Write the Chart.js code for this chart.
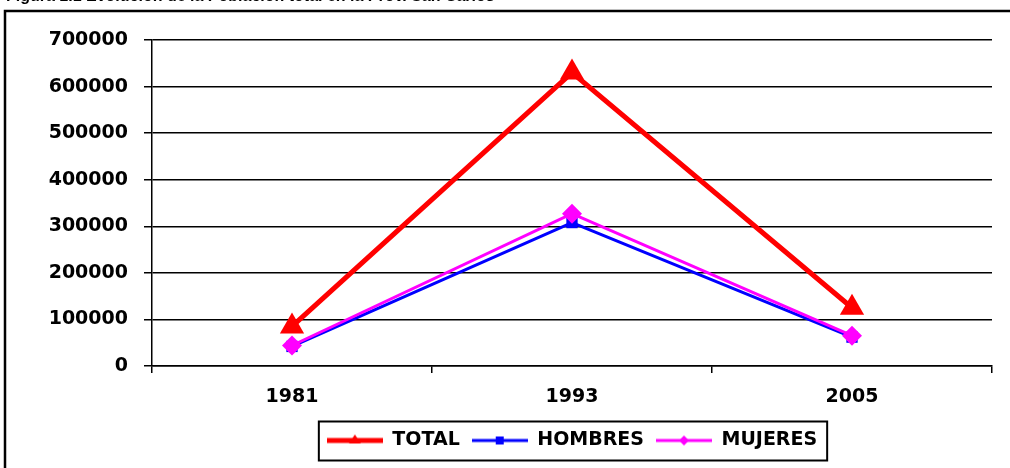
<!DOCTYPE html>
<html>
<head>
<meta charset="utf-8">
<script src="https://cdn.jsdelivr.net/npm/chart.js@4.4.1/dist/chart.umd.min.js"></script>
<style>
    html, body { margin: 0; padding: 0; background: #fff; }
    #wrap { width: 1010px; height: 468px; }
</style>
</head>
<body>
<div id="wrap"><canvas id="myChart" width="1010" height="468"></canvas></div>
<script>
// data
const years = ['1981', '1993', '2005'];
const total = [85000, 630000, 125000];
const hombres = [42000, 308000, 62000];
const mujeres = [44000, 327000, 65000];
const yMin = 0;
const yMax = 700000;
const yStep = 100000;

const FONT = '"DejaVu Sans", Arial, sans-serif';

// small line+marker pictures for the legend
function legendIcon(color, lw, shape) {
    let c = document.createElement('canvas');
    c.width = 56;
    c.height = 14;
    let ctx = c.getContext('2d');
    ctx.strokeStyle = color;
    ctx.fillStyle = color;
    ctx.lineWidth = lw;
    ctx.beginPath();
    ctx.moveTo(0, 7);
    ctx.lineTo(56, 7);
    ctx.stroke();
    ctx.beginPath();
    if (shape === 'triangle') {
        ctx.moveTo(28, 1);
        ctx.lineTo(34, 10);
        ctx.lineTo(22, 10);
    } else if (shape === 'rect') {
        ctx.rect(24, 3, 8, 8);
    } else {
        ctx.moveTo(28, 2);
        ctx.lineTo(33, 7);
        ctx.lineTo(28, 12);
        ctx.lineTo(23, 7);
    }
    ctx.closePath();
    ctx.fill();
    return c;
}

const icons = [
    legendIcon('#ff0000', 5, 'triangle'),
    legendIcon('#0000ff', 3, 'rect'),
    legendIcon('#ff00ff', 3, 'diamond')
];

// white page, frame and the cut-off title
const framePlugin = {
    id: 'frame',
    beforeDraw(chart) {
        const ctx = chart.ctx;
        ctx.save();
        ctx.fillStyle = '#fff';
        ctx.fillRect(0, 0, chart.width, chart.height);
        ctx.fillStyle = '#000';
        ctx.font = 'bold 16px Arial, "Liberation Sans", sans-serif';
        ctx.textBaseline = 'alphabetic';
        ctx.fillText('Figura 1.1 Evolución de la Población total en la Prov. San Carlos', 6, 1);
        ctx.strokeStyle = '#000';
        ctx.lineWidth = 2.5;
        ctx.beginPath();
        ctx.moveTo(5, 468);
        ctx.lineTo(5, 11);
        ctx.lineTo(1010, 11);
        ctx.stroke();
        ctx.restore();
    },
    // legend sits under the plot area, not the whole page
    afterLayout(chart) {
        const lg = chart.legend;
        const dx = (chart.chartArea.left + chart.chartArea.right) / 2 - (lg.left + lg.right) / 2;
        lg.left += dx;
        lg.right += dx;
    }
};

// box round the legend
const legendBoxPlugin = {
    id: 'legendBox',
    afterDraw(chart) {
        const boxes = chart.legend.legendHitBoxes;
        if (!boxes || !boxes.length) return;
        let l = Math.min(...boxes.map(b => b.left));
        let r = Math.max(...boxes.map(b => b.left + b.width));
        let cy = boxes[0].top + boxes[0].height / 2;
        const ctx = chart.ctx;
        ctx.save();
        ctx.strokeStyle = '#000';
        ctx.lineWidth = 2;
        ctx.strokeRect(l - 8, cy - 19, r - l + 18, 39);
        ctx.restore();
    }
};

let myChart = new Chart(document.getElementById('myChart'), {
    type: 'line',
    data: {
        labels: years,
        datasets: [{
            label: 'TOTAL',
            data: total,
            borderColor: '#ff0000',
            backgroundColor: '#ff0000',
            borderWidth: 5,
            pointStyle: 'triangle',
            pointRadius: 14,
            pointBorderWidth: 0,
            order: 0
        }, {
            label: 'HOMBRES',
            data: hombres,
            borderColor: '#0000ff',
            backgroundColor: '#0000ff',
            borderWidth: 3,
            pointStyle: 'rect',
            pointRadius: 8,
            pointBorderWidth: 0,
            order: 2
        }, {
            label: 'MUJERES',
            data: mujeres,
            borderColor: '#ff00ff',
            backgroundColor: '#ff00ff',
            borderWidth: 3,
            pointStyle: 'rectRot',
            pointRadius: 10,
            pointBorderWidth: 0,
            order: 1
        }]
    },
    options: {
        responsive: false,
        animation: false,
        devicePixelRatio: 1,
        layout: {
            padding: { left: 0, right: 18, top: 40, bottom: 8 }
        },
        plugins: {
            tooltip: { enabled: false },
            legend: {
                position: 'bottom',
                labels: {
                    usePointStyle: true,
                    pointStyleWidth: 56,
                    boxWidth: 56,
                    boxHeight: 14,
                    padding: 12,
                    color: '#000',
                    font: { family: FONT, size: 19, weight: 'bold' },
                    sort: (a, b) => a.datasetIndex - b.datasetIndex,
                    generateLabels(chart) {
                        let items = Chart.defaults.plugins.legend.labels.generateLabels(chart);
                        items.forEach(it => {
                            it.pointStyle = icons[it.datasetIndex];
                            it.lineWidth = 0;
                        });
                        return items;
                    }
                }
            }
        },
        scales: {
            x: {
                offset: true,
                grid: {
                    offset: true,
                    drawOnChartArea: false,
                    drawTicks: true,
                    tickLength: 7,
                    color: '#000',
                    lineWidth: 1.5
                },
                border: { display: true, color: '#000', width: 1.5 },
                ticks: {
                    color: '#000',
                    padding: 13,
                    font: { family: FONT, size: 19, weight: 'bold' }
                },
                afterFit(scale) { scale.height = 53; }
            },
            y: {
                min: yMin,
                max: yMax,
                ticks: {
                    stepSize: yStep,
                    color: '#000',
                    padding: 16,
                    font: { family: FONT, size: 19, weight: 'bold' },
                    callback: v => String(v)
                },
                grid: {
                    color: '#000',
                    lineWidth: 1.5,
                    tickLength: 8
                },
                border: { display: true, color: '#000', width: 1.5 },
                afterFit(scale) { scale.width = 152; }
            }
        }
    },
    plugins: [framePlugin, legendBoxPlugin]
});
</script>
</body>
</html>
